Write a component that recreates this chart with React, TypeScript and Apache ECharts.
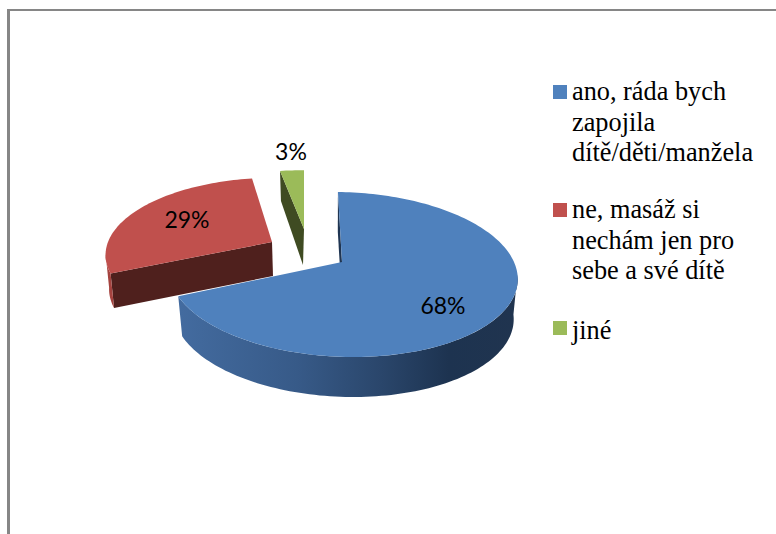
import React, { useEffect, useRef } from "react";
import * as echarts from "echarts";

const categories = [
  "ano, ráda bych\nzapojila\ndítě/děti/manžela",
  "ne, masáž si\nnechám jen pro\nsebe a své dítě",
  "jiné",
];
const shares = [68, 29, 3];
const topColors = ["#4f81bd", "#c0504d", "#9bbb59"];

// Perspective strength of the tilted disc and the first slice's offset from 12 o'clock.
const K = 0.1515;
const ROTATION = 1.6;
const SILHOUETTE = (Math.acos(-K) * 180) / Math.PI;

type Plane = { ax: number; ay: number; rx: number; ry: number; skew: number };
type Slice = {
  top: Plane;
  bottom: Plane;
  edge: string;
  outer: any;
  labelAt: number[];
};

const blueRim = {
  type: "linear",
  global: true,
  x: 180,
  y: 0,
  x2: 516,
  y2: 0,
  colorStops: [
    { offset: 0, color: "#436b9f" },
    { offset: 0.35, color: "#375a88" },
    { offset: 0.6, color: "#2a466b" },
    { offset: 0.8, color: "#1d3350" },
    { offset: 1, color: "#20344f" },
  ],
};

const slices: Slice[] = [
  {
    top: { ax: 342, ay: 262, rx: 172, ry: 80.6, skew: -9.5 },
    bottom: { ax: 342, ay: 302, rx: 168, ry: 80.6, skew: -9.5 },
    edge: "#1f3552",
    outer: blueRim,
    labelAt: [443, 305],
  },
  {
    top: { ax: 272, ay: 242, rx: 164, ry: 74, skew: 3.3 },
    bottom: { ax: 273, ay: 276, rx: 161.5, ry: 75, skew: 3.3 },
    edge: "#4f201d",
    outer: "#a5433f",
    labelAt: [187, 219],
  },
  {
    top: { ax: 304, ay: 229, rx: 147, ry: 67.6, skew: -4.1 },
    bottom: { ax: 303, ay: 265, rx: 135, ry: 74.6, skew: -3.8 },
    edge: "#3f4b22",
    outer: null,
    labelAt: [291, 151],
  },
];

const project = (p: Plane, deg: number) => {
  const t = (deg * Math.PI) / 180;
  const X = Math.sin(t);
  const Z = Math.cos(t);
  const d = 1 + K * Z;
  return [p.ax + (p.rx * X + p.skew * Z) / d, p.ay - (p.ry * Z) / d];
};

const arc = (p: Plane, from: number, to: number) => {
  const pts: number[][] = [];
  const n = Math.max(2, Math.ceil(Math.abs(to - from) / 1.5));
  for (let i = 0; i <= n; i++) pts.push(project(p, from + ((to - from) * i) / n));
  return pts;
};

const total = shares.reduce((a, b) => a + b, 0);

function renderSlice(params: any, api: any) {
  const i = params.seriesIndex;
  const s = slices[i];
  const before = shares.slice(0, i).reduce((a, b) => a + b, 0);
  const start = ROTATION + (before / total) * 360;
  const end = start + (api.value(0) / total) * 360;
  const fill = topColors[i];

  const children: any[] = [];
  // Cut face along the slice's starting radius.
  children.push({
    type: "polygon",
    shape: {
      points: [project(s.top, start), [s.top.ax, s.top.ay], [s.bottom.ax, s.bottom.ay], project(s.bottom, start)],
    },
    style: { fill: s.edge },
  });
  // Visible part of the rim: it runs from the disc's silhouette to the slice's far end.
  if (s.outer) {
    const front = start > 180 ? [start, 360 - SILHOUETTE] : [SILHOUETTE, end];
    children.push({
      type: "polygon",
      shape: {
        points: [...arc(s.top, front[0], front[1]), ...arc(s.bottom, front[0], front[1]).reverse()],
      },
      style: { fill: s.outer },
    });
  }
  // Upper face.
  children.push({
    type: "polygon",
    shape: { points: [[s.top.ax, s.top.ay], ...arc(s.top, start, end)] },
    style: { fill },
  });
  children.push({
    type: "text",
    x: s.labelAt[0],
    y: s.labelAt[1],
    style: {
      text: `${api.value(0)}%`,
      font: '23px Lato, "Noto Sans", sans-serif',
      fill: "#000",
      align: "center",
      verticalAlign: "middle",
    },
  });
  return { type: "group", children };
}

const legendSwatchTop = [85, 203, 321];
const legendTextTop = [76, 194, 315];

// Slices are painted back to front so the large one overlaps the red cut face.
const paintOrder = [2, 1, 0];

export default function App() {
  const ref = useRef<HTMLDivElement>(null);
  useEffect(() => {
    document.body.style.margin = "0";
    const chart = echarts.init(ref.current!, undefined, { renderer: "svg" });
    chart.setOption({
      animation: false,
      backgroundColor: "#fff",
      graphic: [
        { type: "rect", shape: { x: 7, y: 9, width: 769, height: 2 }, style: { fill: "#868686" } },
        { type: "rect", shape: { x: 7, y: 9, width: 3, height: 525 }, style: { fill: "#868686" } },
        ...categories.flatMap((c, i) => [
          {
            type: "rect",
            shape: { x: 553, y: legendSwatchTop[i], width: 14, height: 14 },
            style: { fill: topColors[i] },
          },
          {
            type: "text",
            x: 572,
            y: legendTextTop[i],
            style: {
              text: c,
              font: '26.3px "Liberation Serif", serif',
              lineHeight: 30.7,
              fill: "#000",
              align: "left",
              verticalAlign: "top",
            },
          },
        ]),
      ],
      series: paintOrder.map((i) => ({
        type: "custom",
        name: categories[i],
        coordinateSystem: "none",
        silent: true,
        z: 3 - i,
        data: [[shares[i]]],
        renderItem: (params: any, api: any) => renderSlice({ ...params, seriesIndex: i }, api),
      })),
    });
    return () => chart.dispose();
  }, []);
  return (
    <div
      ref={ref}
      style={{ position: "absolute", left: 0, top: 0, width: 776, height: 534 }}
    />
  );
}
